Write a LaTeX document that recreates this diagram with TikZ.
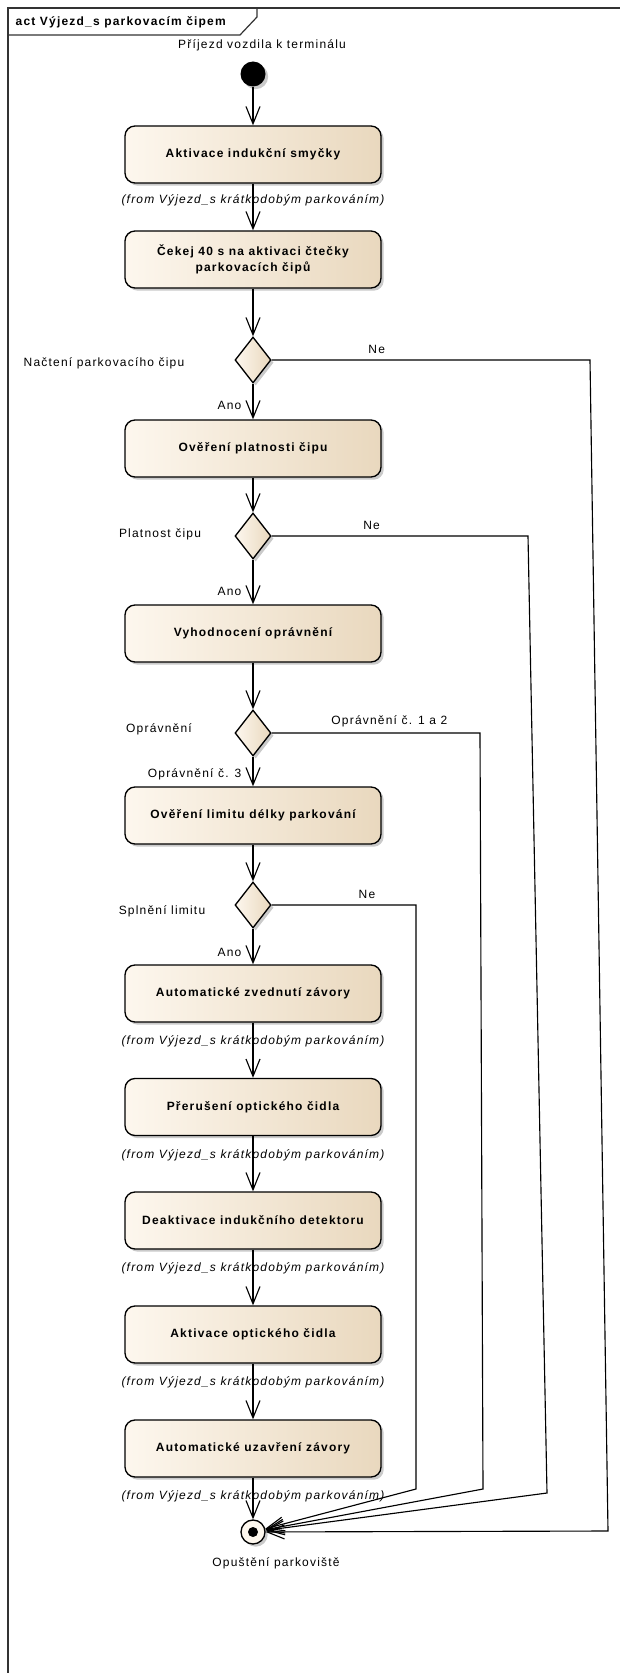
\documentclass[tikz,border=0pt]{standalone}
\usepackage{fontspec}
\setmainfont{Liberation Sans}[LetterSpace=10]
\usetikzlibrary{shapes.geometric,arrows.meta,shadows}

\definecolor{krem}{RGB}{253,247,238}
\definecolor{bez}{RGB}{233,216,190}

\tikzset{
  stin/.style={drop shadow={shadow xshift=2pt, shadow yshift=-2pt, opacity=0.35, fill=black!60}},
  akce/.style={draw, line width=1pt, rounded corners=7.5pt, minimum width=192pt, minimum height=42.75pt,
    left color=krem, right color=bez, align=center, font=\fontsize{9}{12}\selectfont\bfseries, stin},
  rozhod/.style={diamond, draw, line width=1pt, inner sep=0pt, minimum width=27pt, minimum height=34.5pt,
    left color=krem, right color=bez, stin},
  pocatek/.style={circle, fill=black, inner sep=0pt, minimum size=18.75pt, stin},
  konecny/.style={circle, draw, line width=1pt, inner sep=0pt, minimum size=18pt, fill=krem, stin,
    path picture={\fill[black] (path picture bounding box.center) circle (3.75pt);}},
  popis/.style={font=\fontsize{9}{11}\selectfont},
  zdroj/.style={font=\fontsize{9}{11}\selectfont\itshape},
  sip/.style={line width=0.85pt, -{Straight Barb[length=13pt, width=10.5pt]}}
}

\begin{document}
\begin{tikzpicture}[x=0.75pt, y=-0.75pt]
\useasboundingbox (0,0) rectangle (619,1673);

% ramec
\draw[line width=0.9pt, black!80] (8,1680) -- (8,8) -- (625,8);
\draw[line width=0.9pt, black!80] (8,35) -- (240,35) -- (257,17) -- (257,8);
\node[popis, font=\fontsize{9}{11}\selectfont\bfseries, anchor=west] (titul) at (11,22) {act Výjezd\_s parkovacím čipem};

\node[popis] (prijezd) at (262,45) {Příjezd vozdila k terminálu};
\node[pocatek] (start) at (253,74) {};

\node[akce] (akt) at (253,154.5) {Aktivace indukční smyčky};
\node[zdroj] (z1) at (253,200) {(from Výjezd\_s krátkodobým parkováním)};
\node[akce] (cekej) at (253,259.5) {Čekej 40 s na aktivaci čtečky\\parkovacích čipů};

\node[rozhod] (nacteni) at (253,360) {};
\node[popis] at (104,363) {Načtení parkovacího čipu};
\node[akce] (over) at (253,448.5) {Ověření platnosti čipu};

\node[rozhod] (platnost) at (253,536) {};
\node[popis] at (160,534) {Platnost čipu};
\node[akce] (vyhod) at (253,633.5) {Vyhodnocení oprávnění};

\node[rozhod] (opr) at (253,733) {};
\node[popis] at (159,729) {Oprávnění};
\node[akce] (limit) at (253,815.5) {Ověření limitu délky parkování};

\node[rozhod] (splneni) at (253,905) {};
\node[popis] at (162,911) {Splnění limitu};

\node[akce] (zved) at (253,993.5) {Automatické zvednutí závory};
\node[zdroj] (z2) at (253,1041) {(from Výjezd\_s krátkodobým parkováním)};
\node[akce] (prer) at (253,1107) {Přerušení optického čidla};
\node[zdroj] (z3) at (253,1155) {(from Výjezd\_s krátkodobým parkováním)};
\node[akce] (deakt) at (253,1220.5) {Deaktivace indukčního detektoru};
\node[zdroj] (z4) at (253,1268) {(from Výjezd\_s krátkodobým parkováním)};
\node[akce] (aktopt) at (253,1334.5) {Aktivace optického čidla};
\node[zdroj] (z5) at (253,1382) {(from Výjezd\_s krátkodobým parkováním)};
\node[akce] (uzav) at (253,1448.5) {Automatické uzavření závory};
\node[zdroj] (z6) at (253,1496) {(from Výjezd\_s krátkodobým parkováním)};

\node[konecny] (konec) at (253,1532) {};
\node[popis] (opusteni) at (276,1563) {Opuštění parkoviště};

\draw[sip] (start) -- (akt);
\draw[sip] (akt) -- (cekej);
\draw[sip] (cekej) -- (nacteni);
\draw[sip] (nacteni) -- node[popis, pos=0.6, left=5pt] {Ano} (over);
\draw[sip] (over) -- (platnost);
\draw[sip] (platnost) -- node[popis, pos=0.72, left=5pt] {Ano} (vyhod);
\draw[sip] (vyhod) -- (opr);
\draw[sip] (opr) -- node[popis, pos=0.6, left=5pt] {Oprávnění č. 3} (limit);
\draw[sip] (limit) -- (splneni);
\draw[sip] (splneni) -- node[popis, pos=0.67, left=5pt] {Ano} (zved);
\draw[sip] (zved) -- (prer);
\draw[sip] (prer) -- (deakt);
\draw[sip] (deakt) -- (aktopt);
\draw[sip] (aktopt) -- (uzav);
\draw[sip] (uzav) -- (konec);

\draw[sip] (nacteni.east) -- node[popis, pos=0.33, above=1pt] {Ne} (590,360) -- (608,1531) -- (konec);
\draw[sip] (platnost.east) -- node[popis, pos=0.39, above=1pt] {Ne} (528,536) -- (547,1493) -- (konec);
\draw[sip] (opr.east) -- node[popis, pos=0.565, above=1pt] {Oprávnění č. 1 a 2} (480,733) -- (483,1489) -- (konec);
\draw[sip] (splneni.east) -- node[popis, pos=0.66, above=1pt] {Ne} (416,905) -- (416,1489) -- (konec);

\end{tikzpicture}
\end{document}
